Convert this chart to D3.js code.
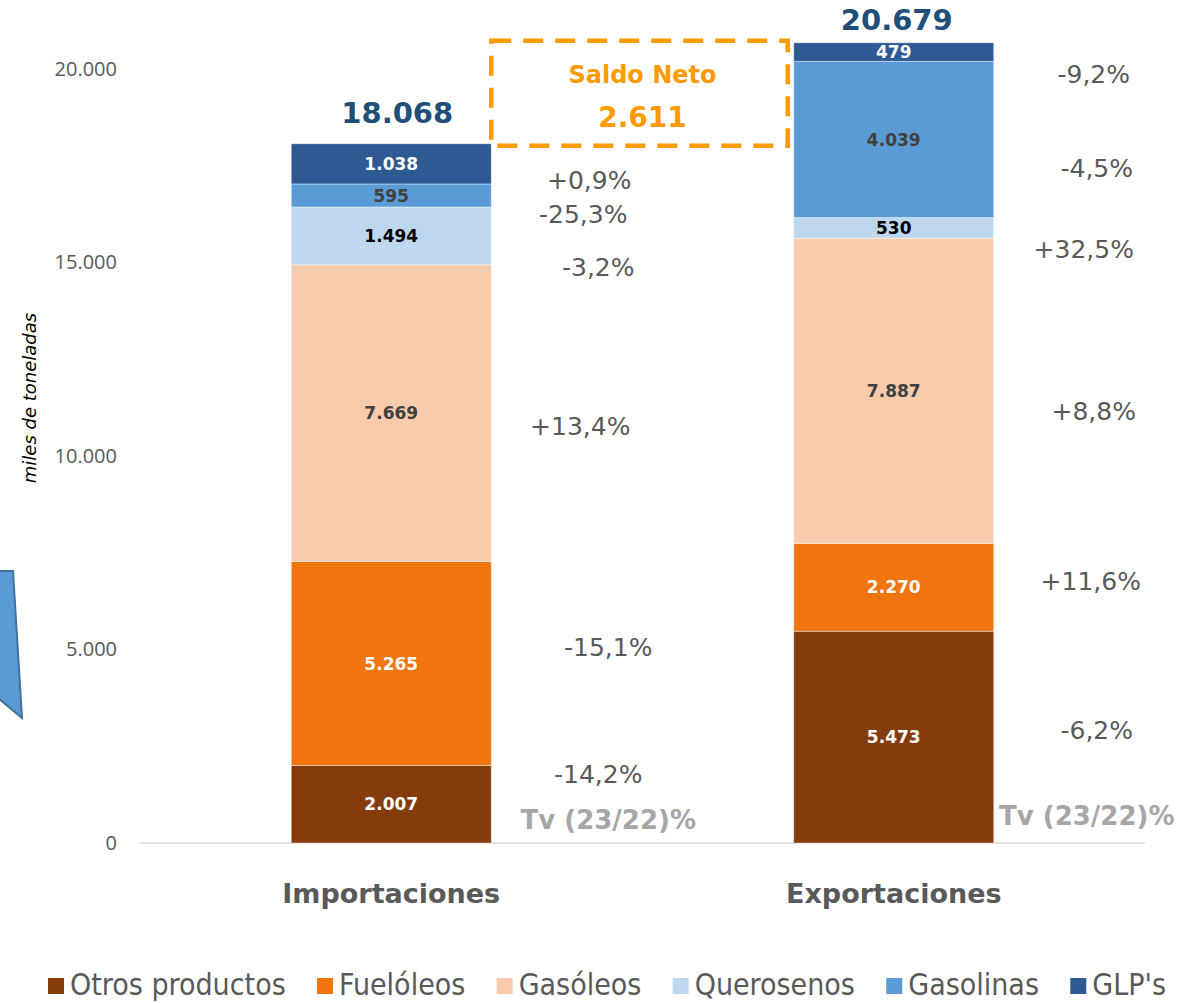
<!DOCTYPE html>
<html><head><meta charset="utf-8">
<script src="https://cdn.jsdelivr.net/npm/d3@7"></script>
<style>body{margin:0;background:#fff}svg{display:block}</style>
</head><body>
<svg id="c" width="1196" height="1003"></svg>
<script>
// ---- data ----
const categories = ["Importaciones", "Exportaciones"];
const products = ["Otros productos", "Fuelóleos", "Gasóleos", "Querosenos", "Gasolinas", "GLP's"];
const importValues = [2007, 5265, 7669, 1494, 595, 1038];
const exportValues = [5473, 2270, 7887, 530, 4039, 479];
const importChange = ["-14,2%", "-15,1%", "+13,4%", "-3,2%", "-25,3%", "+0,9%"];
const exportChange = ["-6,2%", "+11,6%", "+8,8%", "+32,5%", "-4,5%", "-9,2%"];
const totals = [18068, 20679];
const saldoNeto = 2611;
const yTicks = [0, 5000, 10000, 15000, 20000];
const rateLabel = "Tv (23/22)%";

// ---- styles ----
const colors = ["#843C0C", "#F0750F", "#F8CBAD", "#BDD7EE", "#5B9BD5", "#2E5A94"];
const labelColors = ["#ffffff", "#ffffff", "#404040", "#000000", "#404040", "#ffffff"];
// pixel nudges for the change labels (dx, dy) relative to segment centres
const impNudge = [[7,-30],[17,-16],[-11,13],[7,31],[-8,19],[-2,16]];
const expNudge = [[3,-7],[-3,-6],[0,20],[-10,21],[3,29],[0,22]];

const fmt = v => d3.format(",")(v).replace(/,/g, ".");
const svg = d3.select("#c");

const x = d3.scaleBand().domain(categories).range([140, 1145]).paddingInner(0).paddingOuter(0);
const barW = 200;
const y = d3.scaleLinear().domain([0, 20000]).range([843, 69]);

// decorative callout fragment on the left edge
svg.append("path").attr("d", "M-2,571 L13,571 L22,718 L-2,698 Z")
  .attr("fill", "#5B9BD5").attr("stroke", "#41719C").attr("stroke-width", 2);

// y axis labels
svg.append("g").attr("transform", "translate(117,0)")
  .call(d3.axisLeft(y).tickValues(yTicks).tickSize(0).tickPadding(0).tickFormat(fmt))
  .call(g => g.select(".domain").remove())
  .call(g => g.selectAll("text").attr("font-family", "Open Sans, sans-serif")
    .attr("font-size", 20).attr("fill", "#595959"));

svg.append("text").attr("transform", "translate(36,398) rotate(-90)")
  .attr("text-anchor", "middle").attr("font-family", "DejaVu Sans, sans-serif")
  .attr("font-style", "italic").attr("font-size", 18).attr("fill", "#000").text("miles de toneladas");

// baseline
svg.append("line").attr("x1", 140).attr("x2", 1145).attr("y1", y(0)).attr("y2", y(0))
  .attr("stroke", "#D9D9D9").attr("stroke-width", 1.5);

const series = [importValues, exportValues];
const changes = [importChange, exportChange];
const nudges = [impNudge, expNudge];
const barX = c => x(c) + (x.bandwidth() - barW) / 2;

categories.forEach((cat, ci) => {
  const vals = series[ci];
  let acc = 0;
  const segs = vals.map((v, i) => { const s = {i, v, y0: acc, y1: acc + v}; acc += v; return s; });
  const g = svg.append("g");
  g.selectAll("rect").data(segs).join("rect")
    .attr("x", barX(cat)).attr("width", barW)
    .attr("y", d => y(d.y1)).attr("height", d => y(d.y0) - y(d.y1))
    .attr("fill", d => colors[d.i]).attr("stroke", "#ffffff").attr("stroke-opacity", 0.5).attr("stroke-width", 0.8);
  g.selectAll("text.v").data(segs).join("text").attr("class", "v")
    .attr("x", barX(cat) + barW / 2).attr("y", d => (y(d.y0) + y(d.y1)) / 2)
    .attr("dy", "0.36em").attr("text-anchor", "middle")
    .attr("font-family", "DejaVu Sans, sans-serif").attr("font-weight", "bold").attr("font-size", 17)
    .attr("fill", d => labelColors[d.i]).text(d => fmt(d.v));
  // change labels
  const baseX = barX(cat) + barW + 100;
  g.selectAll("text.p").data(segs).join("text").attr("class", "p")
    .attr("x", d => baseX + nudges[ci][d.i][0])
    .attr("y", d => (y(d.y0) + y(d.y1)) / 2 + nudges[ci][d.i][1])
    .attr("dy", "0.36em").attr("text-anchor", "middle")
    .attr("font-family", "DejaVu Sans, sans-serif").attr("font-size", 25)
    .attr("fill", "#595959").text(d => changes[ci][d.i]);
  // rate label
  g.append("text").attr("x", barX(cat) + barW + (ci === 0 ? 117 : 93)).attr("y", y(0) - (ci === 0 ? 14 : 18))
    .attr("text-anchor", "middle").attr("font-family", "DejaVu Sans, sans-serif")
    .attr("font-weight", "bold").attr("font-size", 26).attr("fill", "#A6A6A6").text(rateLabel);
  // total
  g.append("text").attr("x", barX(cat) + barW / 2 + (ci === 0 ? 6 : 3))
    .attr("y", y(totals[ci]) - (ci === 0 ? 21 : 13))
    .attr("text-anchor", "middle").attr("font-family", "DejaVu Sans, sans-serif")
    .attr("font-weight", "bold").attr("font-size", 29).attr("fill", "#1F4E79").text(fmt(totals[ci]));
  // category label
  g.append("text").attr("x", barX(cat) + barW / 2).attr("y", 903)
    .attr("text-anchor", "middle").attr("font-family", "DejaVu Sans, sans-serif")
    .attr("font-weight", "bold").attr("font-size", 27).attr("fill", "#595959").text(cat);
});

// Saldo Neto box
const bx0 = barX(categories[0]) + barW, bx1 = barX(categories[1]) - 6;
const by0 = y(totals[1]) - 2, by1 = y(totals[0]) + 2;
svg.append("rect").attr("x", bx0).attr("y", by0).attr("width", bx1 - bx0).attr("height", by1 - by0)
  .attr("fill", "none").attr("stroke", "#FF9A00").attr("stroke-width", 4.5).attr("stroke-dasharray", "20,12");
svg.append("text").attr("x", (bx0 + bx1) / 2 + 3).attr("y", 83).attr("text-anchor", "middle")
  .attr("font-family", "DejaVu Sans, sans-serif").attr("font-weight", "bold").attr("font-size", 24)
  .attr("fill", "#FF9A00").text("Saldo Neto");
svg.append("text").attr("x", (bx0 + bx1) / 2 + 3).attr("y", 127).attr("text-anchor", "middle")
  .attr("font-family", "DejaVu Sans, sans-serif").attr("font-weight", "bold").attr("font-size", 28)
  .attr("fill", "#FF9A00").text(fmt(saldoNeto));

// legend
const lg = svg.append("g");
const items = lg.selectAll("g").data(products).join("g");
items.append("rect").attr("width", 16).attr("height", 16).attr("y", 978).attr("fill", (d, i) => colors[i]);
items.append("text").attr("x", 22).attr("y", 995)
  .attr("font-family", "Liberation Sans Narrow, DejaVu Sans Condensed, sans-serif")
  .attr("font-size", 30).attr("fill", "#595959").text(d => d);
const widths = [];
items.select("text").each(function() { widths.push(22 + this.getComputedTextLength()); });
const legL = 48, legR = 1166;
const gap = (legR - legL - d3.sum(widths)) / (products.length - 1);
let cx = legL;
items.attr("transform", (d, i) => { const t = `translate(${cx},0)`; cx += widths[i] + gap; return t; });
</script>
</body></html>
